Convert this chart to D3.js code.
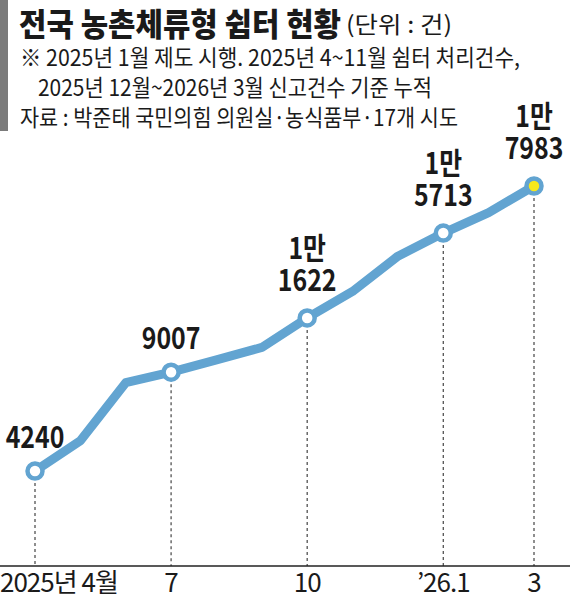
<!DOCTYPE html>
<html>
<head>
<meta charset="utf-8">
<script src="https://cdn.jsdelivr.net/npm/d3@7"></script>
<style>
  body { margin: 0; background: #fff; }
  svg { display: block; }
  text { font-family: "Liberation Sans Narrow", "Noto Sans CJK KR", sans-serif; fill: #1a1a1a; }
  .kr { font-family: "Noto Sans CJK KR", sans-serif; }
</style>
</head>
<body>
<script>
// Data
var months = ["2025-04", "2025-05", "2025-06", "2025-07", "2025-08", "2025-09",
    "2025-10", "2025-11", "2025-12", "2026-01", "2026-02", "2026-03"];
var counts = [4240, 5700, 8500, 9007, 9600, 10200, 11622, 12900, 14600, 15713, 16700, 17983];
var labelled = [0, 3, 6, 9, 11];
var tickLabels = ["2025년 4월", "7", "10", "\u201926.1", "3"];

var titleText = "전국 농촌체류형 쉼터 현황";
var unitText = "(단위 : 건)";
var notes = [
    "※ 2025년 1월 제도 시행. 2025년 4~11월 쉼터 처리건수,",
    "2025년 12월~2026년 3월 신고건수 기준 누적",
    "자료 : 박준태 국민의힘 의원실·농식품부·17개 시도"
];

var W = 570, H = 601;
var BLUE = "#62a4d1";

var svg = d3.select("body").append("svg")
    .attr("width", W)
    .attr("height", H);

// header
svg.append("rect")
    .attr("x", 0).attr("y", 0)
    .attr("width", 8).attr("height", 131)
    .attr("fill", "#7b7b7b");

svg.append("text")
    .attr("class", "kr")
    .attr("x", 19).attr("y", 36)
    .attr("font-size", 32)
    .attr("font-weight", 900)
    .attr("textLength", 322)
    .attr("lengthAdjust", "spacingAndGlyphs")
    .text(titleText);

svg.append("text")
    .attr("class", "kr")
    .attr("x", 346).attr("y", 33)
    .attr("font-size", 23)
    .attr("textLength", 106)
    .attr("lengthAdjust", "spacingAndGlyphs")
    .text(unitText);

var noteX = [20, 38, 20];
var noteY = [66, 96, 126];
var noteW = [500, 394, 438];
notes.forEach(function(n, i) {
    svg.append("text")
        .attr("x", noteX[i]).attr("y", noteY[i])
        .attr("font-size", 23)
        .attr("textLength", noteW[i])
        .attr("lengthAdjust", "spacingAndGlyphs")
        .text(n);
});

// scales
var x = d3.scalePoint()
    .domain(months)
    .range([35, 534]);

var y = d3.scaleLinear()
    .domain([0, 17983])
    .range([559, 186]);

var axisY = 566;

// dashed guides
svg.append("g")
    .selectAll("line")
    .data(labelled)
    .enter()
    .append("line")
    .attr("x1", function(i) { return x(months[i]); })
    .attr("x2", function(i) { return x(months[i]); })
    .attr("y1", function(i) { return y(counts[i]); })
    .attr("y2", axisY)
    .attr("stroke", "#444")
    .attr("stroke-width", 1.2)
    .attr("stroke-dasharray", "3,3");

// axis baseline
svg.append("line")
    .attr("x1", 0).attr("x2", W)
    .attr("y1", axisY).attr("y2", axisY)
    .attr("stroke", "#222")
    .attr("stroke-width", 1.5);

svg.append("g")
    .selectAll("text")
    .data(labelled)
    .enter()
    .append("text")
    .attr("x", function(i, k) { return k == 0 ? 0 : x(months[i]); })
    .attr("y", 592)
    .attr("text-anchor", function(i, k) { return k == 0 ? "start" : "middle"; })
    .attr("font-size", 26)
    .attr("letter-spacing", -1)
    .text(function(i, k) { return tickLabels[k]; });

// line
var line = d3.line()
    .x(function(d, i) { return x(months[i]); })
    .y(function(d) { return y(d); });

svg.append("path")
    .datum(counts)
    .attr("d", line)
    .attr("fill", "none")
    .attr("stroke", BLUE)
    .attr("stroke-width", 9)
    .attr("stroke-linejoin", "round")
    .attr("stroke-linecap", "round");

// markers
svg.append("g")
    .selectAll("circle")
    .data(labelled)
    .enter()
    .append("circle")
    .attr("cx", function(i) { return x(months[i]); })
    .attr("cy", function(i) { return y(counts[i]); })
    .attr("r", 7.5)
    .attr("fill", function(i) { return i == months.length - 1 ? "#f7e81a" : "#fff"; })
    .attr("stroke", BLUE)
    .attr("stroke-width", 4.5);

// value labels, squeezed horizontally to the narrow look of the original
// (values of 10000+ are written on two lines: "1만" over the rest)
var labels = svg.append("g");

labelled.forEach(function(i) {
    var v = counts[i];
    var cx = x(months[i]);
    var cy = y(v);
    var big = v >= 10000;
    var t = labels.append("text")
        .attr("transform", "translate(" + cx + "," + (cy - (big ? 59 : 23)) + ") scale(0.83,1)")
        .attr("font-size", 30)
        .attr("font-weight", "bold")
        .attr("text-anchor", "middle");
    if (big) {
        t.append("tspan").attr("x", 0).attr("y", 0)
            .text(Math.floor(v / 10000) + "만");
        t.append("tspan").attr("x", 0).attr("y", 32)
            .text(String(v % 10000).padStart(4, "0"));
    } else {
        t.append("tspan").attr("x", 0).attr("y", 0).text(String(v));
    }
});
</script>
</body>
</html>
